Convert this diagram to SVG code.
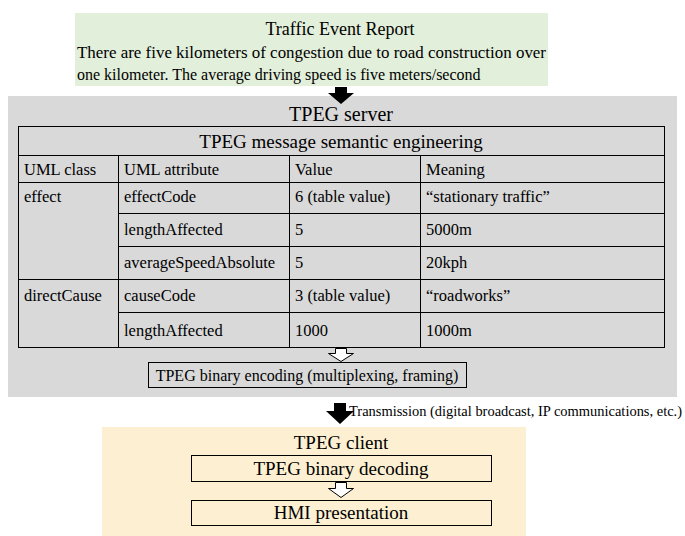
<svg xmlns="http://www.w3.org/2000/svg" width="685" height="536" viewBox="0 0 685 536">
<style>
text{font-family:"Liberation Serif","Times New Roman",serif;fill:#000}
.t20{font-size:20px}
.t19{font-size:19px}
.t18{font-size:18px}
.t16{font-size:16px}
.t17{font-size:16.5px}
.t14{font-size:14.5px}
.c{text-anchor:middle}
.ln{stroke:#000;stroke-width:1;fill:none}
.box{fill:none;stroke:#000;stroke-width:1}
.black{fill:#000}
.open{fill:#fff;stroke:#000;stroke-width:1}
</style>
<g id="report">
<rect x="75" y="13" width="473" height="73" fill="#e2efda"/>
<text class="t18 c" x="340" y="35">Traffic Event Report</text>
<text class="t16" x="77" y="58" textLength="469" lengthAdjust="spacingAndGlyphs">There are five kilometers of congestion due to road construction over</text>
<text class="t16" x="77" y="80">one kilometer. The average driving speed is five meters/second</text>
</g>
<g id="server">
<rect x="8" y="96" width="669" height="301" fill="#d9d9d9"/>
<text class="t20 c" x="341" y="121">TPEG server</text>
</g>
<g id="table">
<rect x="18.5" y="126.5" width="646" height="221" class="box"/>
<text class="t19 c" x="341" y="148">TPEG message semantic engineering</text>
<path class="ln" d="M18.5 155.5H664.5M18.5 182.5H664.5M118.5 213.5H664.5M118.5 246.5H664.5M18.5 279.5H664.5M118.5 312.5H664.5M118.5 155.5V347.5M289.5 155.5V347.5M420.5 155.5V347.5"/>
<text class="t17" x="24" y="175">UML class</text>
<text class="t17" x="124" y="175">UML attribute</text>
<text class="t17" x="295" y="175">Value</text>
<text class="t17" x="426" y="175">Meaning</text>
<text class="t17" x="24" y="202">effect</text>
<text class="t17" x="124" y="202">effectCode</text>
<text class="t17" x="295" y="202">6 (table value)</text>
<text class="t17" x="426" y="202">“stationary traffic”</text>
<text class="t17" x="124" y="235">lengthAffected</text>
<text class="t17" x="295" y="235">5</text>
<text class="t17" x="426" y="235">5000m</text>
<text class="t17" x="124" y="268">averageSpeedAbsolute</text>
<text class="t17" x="295" y="268">5</text>
<text class="t17" x="426" y="268">20kph</text>
<text class="t17" x="24" y="301">directCause</text>
<text class="t17" x="124" y="301">causeCode</text>
<text class="t17" x="295" y="301">3 (table value)</text>
<text class="t17" x="426" y="301">“roadworks”</text>
<text class="t17" x="124" y="336">lengthAffected</text>
<text class="t17" x="295" y="336">1000</text>
<text class="t17" x="426" y="336">1000m</text>
</g>
<g id="encoding">
<rect x="148.5" y="362.5" width="318" height="25" class="box"/>
<text class="t16 c" x="307" y="381">TPEG binary encoding (multiplexing, framing)</text>
</g>
<g id="client">
<rect x="102" y="427" width="424" height="109" fill="#fdf0d2"/>
<text class="t19 c" x="341" y="449">TPEG client</text>
</g>
<g id="decoding">
<rect x="191.5" y="455.5" width="300" height="26" class="box"/>
<text class="t19 c" x="341" y="475">TPEG binary decoding</text>
</g>
<g id="hmi">
<rect x="191.5" y="500.5" width="300" height="25" class="box"/>
<text class="t19 c" x="341" y="519">HMI presentation</text>
</g>
<g id="connectors">
<polygon class="black" points="335,87 347,87 347,93 354,93 341,104 328,93 335,93"/>
<polygon class="open" points="335.5,348.5 346.5,348.5 346.5,353.5 353.5,353.5 341,361.5 328.5,353.5 335.5,353.5"/>
<polygon class="black" points="334,403 346,403 346,411 354,411 340,424 326,411 334,411"/>
<text class="t14" x="349" y="416" textLength="333" lengthAdjust="spacingAndGlyphs">Transmission (digital broadcast, IP communications, etc.)</text>
<polygon class="open" points="335.5,482.5 346.5,482.5 346.5,488.5 353.5,488.5 341,497.5 328.5,488.5 335.5,488.5"/>
</g>
</svg>
